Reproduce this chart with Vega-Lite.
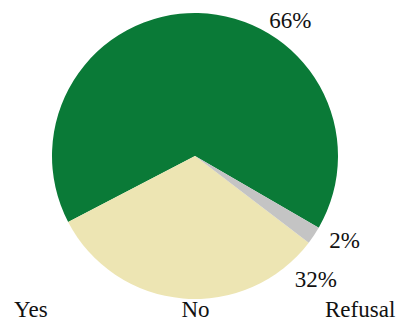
{
  "$schema": "https://vega.github.io/schema/vega-lite/v6.json",
  "autosize": {"type": "fit", "contains": "padding"},
  "width": 396,
  "height": 321,
  "padding": {"top": 15, "left": 4, "right": 2, "bottom": 0},
  "background": "#ffffff",
  "config": {"view": {"stroke": null}},
  "data": {
    "values": [
      {"category": "Yes", "share": 0.66},
      {"category": "No", "share": 0.32},
      {"category": "Refusal", "share": 0.02}
    ]
  },
  "layer": [
    {
      "mark": {"type": "arc", "outerRadius": 143},
      "encoding": {
        "theta": {"field": "share", "type": "quantitative", "stack": true, "scale": {"range": [4.2324, 10.5156]}},
        "order": {"field": "category", "sort": "descending"},
        "color": {
          "field": "category", "type": "nominal",
          "scale": {"domain": ["Yes", "No", "Refusal"], "range": ["#0a7a37", "#ede5b3", "#c4c4c4"]},
          "legend": null
        }
      }
    },
    {
      "mark": {"type": "text", "radius": 169.5, "dy": 5.5, "font": "Liberation Serif", "fontSize": 23, "color": "#111111"},
      "encoding": {
        "theta": {"field": "share", "type": "quantitative", "stack": true, "scale": {"type": "pow", "exponent": -1, "domain": [0.25, 1], "range": [-0.3246, 2.529], "zero": false, "nice": false}},
        "order": {"field": "category", "sort": "descending"},
        "detail": {"field": "category", "type": "nominal"},
        "text": {"field": "share", "type": "quantitative", "format": ".0%"}
      }
    },
    {
      "mark": {"type": "text", "opacity": 0},
      "encoding": {
        "x": {
          "field": "category", "type": "nominal",
          "sort": ["Yes", "No", "Refusal"],
          "scale": {"type": "point", "padding": 0.16},
          "axis": {"title": null, "domain": false, "ticks": false, "grid": false, "labelFont": "Liberation Serif", "labelFontSize": 23, "labelColor": "#111111", "labelPadding": 1, "labelAngle": 0}
        },
        "text": {"field": "category", "type": "nominal"}
      }
    }
  ],
  "resolve": {"scale": {"theta": "independent"}}
}
